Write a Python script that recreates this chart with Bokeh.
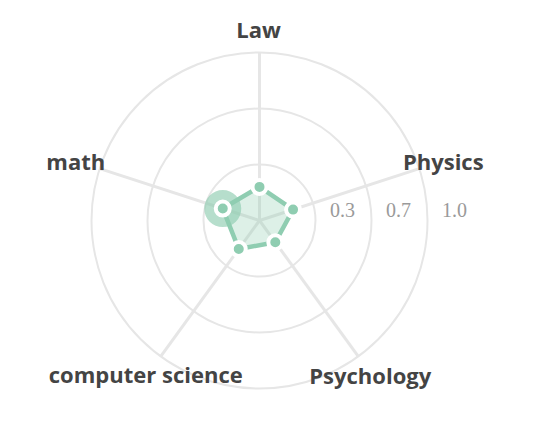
import math
from bokeh.plotting import figure
from bokeh.models import Range1d, ColumnDataSource
from bokeh.embed import file_html
from bokeh.resources import INLINE
from bokeh.core.properties import value

# ---- data ----
indicators = ["Law", "Physics", "Psychology", "computer science", "math"]
scores = [0.20, 0.21, 0.16, 0.21, 0.23]
ring_values = [1/3, 2/3, 1.0]
ring_labels = ["0.3", "0.7", "1.0"]
highlight = "math"

# ---- style / layout ----
W, H = 539, 439
CX, CY = 259, 220      # centre in pixels
R = 168                # pixels for value 1.0
GREEN = "#8fcdb1"
GRID = "#e6e6e6"

p = figure(width=W, height=H, output_backend="svg", toolbar_location=None,
           x_range=Range1d(-CX / R, (W - CX) / R),
           y_range=Range1d(-(H - CY) / R, CY / R),
           min_border=0, background_fill_color="white", border_fill_color="white")
p.axis.visible = False
p.grid.visible = False
p.outline_line_color = None

n = len(indicators)
angles = [math.pi / 2 - 2 * math.pi * i / n for i in range(n)]

# rings
p.circle(x=[0] * len(ring_values), y=[0] * len(ring_values), radius=ring_values,
         fill_alpha=0, line_color=GRID, line_width=2)

# spokes
for a in angles:
    p.line([0, math.cos(a)], [0, math.sin(a)], line_color=GRID, line_width=3)

# ring labels
p.text(x=[v + 0.16 for v in ring_values], y=[0] * len(ring_values), text=ring_labels,
       text_font=value("Liberation Serif"), text_font_size="20px", text_color="#9a9a9a",
       text_align="center", text_baseline="middle", y_offset=-11)

# series polygon
xs = [s * math.cos(a) for s, a in zip(scores, angles)]
ys = [s * math.sin(a) for s, a in zip(scores, angles)]
p.patch(xs + [xs[0]], ys + [ys[0]], fill_color=GREEN, fill_alpha=0.3,
        line_color=GREEN, line_width=4.5, line_join="round")

# highlighted halo
hi = indicators.index(highlight)
p.scatter([xs[hi]], [ys[hi]], size=37, fill_color=GREEN, fill_alpha=0.65, line_color=None)

# points
p.scatter(xs, ys, size=14, fill_color=GREEN, line_color="white", line_width=4)

# indicator names
label_dx = [-1, 24, 12, -15, -24]
label_dy = [-24, -8, 19, 18, -8]
lsrc = ColumnDataSource(dict(x=[math.cos(a) for a in angles], y=[math.sin(a) for a in angles],
                             t=indicators, dx=label_dx, dy=label_dy))
p.text(x="x", y="y", text="t", source=lsrc, x_offset="dx", y_offset="dy",
       text_font=value("Open Sans"), text_font_size="22px", text_font_style="bold",
       text_color="#444444", text_align="center", text_baseline="alphabetic")

open("out.html", "w").write(file_html(p, INLINE))
